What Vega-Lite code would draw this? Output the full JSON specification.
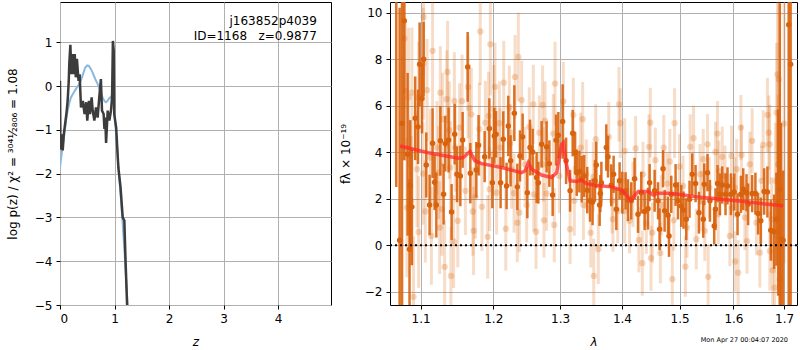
{
"$schema": "https://vega.github.io/schema/vega-lite/v6.json",
"padding": {"left": 5, "top": 1, "right": 1, "bottom": 0},
"background": "white",
"bounds": "flush",
"spacing": 59,
"config": {
  "font": "DejaVu Sans",
  "view": {"stroke": "black", "strokeWidth": 1},
  "axis": {"labelFont": "DejaVu Sans", "labelFontSize": 12, "labelColor": "black", "titleFont": "DejaVu Sans", "titleFontSize": 12, "titleFontWeight": "normal", "titleColor": "black", "tickColor": "black", "tickSize": 4, "labelPadding": 4, "domain": false, "grid": true, "gridColor": "#b0b0b0", "gridWidth": 1, "gridOpacity": 1}
},
"datasets": {
  "pz": [
    {"z":0,"lp":-1.85,"s":"model"},{"z":0.04,"lp":-1.45,"s":"model"},{"z":0.08,"lp":-1.1,"s":"model"},{"z":0.11,"lp":-0.8,"s":"model"},{"z":0.14,"lp":-0.56,"s":"model"},{"z":0.17,"lp":-0.4,"s":"model"},{"z":0.2,"lp":-0.26,"s":"model"},{"z":0.25,"lp":-0.15,"s":"model"},{"z":0.29,"lp":-0.07,"s":"model"},{"z":0.34,"lp":0.02,"s":"model"},{"z":0.38,"lp":0.12,"s":"model"},{"z":0.43,"lp":0.3,"s":"model"},{"z":0.46,"lp":0.42,"s":"model"},{"z":0.5,"lp":0.47,"s":"model"},{"z":0.53,"lp":0.46,"s":"model"},{"z":0.57,"lp":0.38,"s":"model"},{"z":0.6,"lp":0.3,"s":"model"},{"z":0.65,"lp":0.15,"s":"model"},{"z":0.69,"lp":0.05,"s":"model"},{"z":0.74,"lp":-0.12,"s":"model"},{"z":0.78,"lp":-0.26,"s":"model"},{"z":0.82,"lp":-0.35,"s":"model"},{"z":0.845,"lp":-0.37,"s":"model"},{"z":0.87,"lp":-0.34,"s":"model"},{"z":0.9,"lp":-0.28,"s":"model"},{"z":0.93,"lp":-0.25,"s":"model"},{"z":0.96,"lp":-0.3,"s":"model"},{"z":1.0,"lp":-0.65,"s":"model"},{"z":1.03,"lp":-1.1,"s":"model"},{"z":1.06,"lp":-1.65,"s":"model"},{"z":1.09,"lp":-2.15,"s":"model"},{"z":1.12,"lp":-2.62,"s":"model"},{"z":1.15,"lp":-3.15,"s":"model"},{"z":1.18,"lp":-3.72,"s":"model"},{"z":1.21,"lp":-4.35,"s":"model"},{"z":1.24,"lp":-5.0,"s":"model"},{"z":1.27,"lp":-5.7,"s":"model"},
    {"z":0,"lp":0.12,"s":"chi2"},{"z":0.008,"lp":-1.45,"s":"chi2"},{"z":0.03,"lp":-1.1,"s":"chi2"},{"z":0.05,"lp":-1.47,"s":"chi2"},{"z":0.07,"lp":-1.1,"s":"chi2"},{"z":0.1,"lp":-0.8,"s":"chi2"},{"z":0.12,"lp":-0.6,"s":"chi2"},{"z":0.14,"lp":-0.34,"s":"chi2"},{"z":0.16,"lp":0.1,"s":"chi2"},{"z":0.17,"lp":0.5,"s":"chi2"},{"z":0.19,"lp":0.94,"s":"chi2"},{"z":0.21,"lp":0.27,"s":"chi2"},{"z":0.23,"lp":0.73,"s":"chi2"},{"z":0.25,"lp":0.27,"s":"chi2"},{"z":0.27,"lp":0.73,"s":"chi2"},{"z":0.29,"lp":0.2,"s":"chi2"},{"z":0.31,"lp":0.62,"s":"chi2"},{"z":0.34,"lp":0.12,"s":"chi2"},{"z":0.36,"lp":0.27,"s":"chi2"},{"z":0.385,"lp":-0.49,"s":"chi2"},{"z":0.42,"lp":-0.34,"s":"chi2"},{"z":0.45,"lp":-0.64,"s":"chi2"},{"z":0.48,"lp":-0.37,"s":"chi2"},{"z":0.5,"lp":-0.79,"s":"chi2"},{"z":0.53,"lp":-0.34,"s":"chi2"},{"z":0.55,"lp":-0.64,"s":"chi2"},{"z":0.58,"lp":-0.26,"s":"chi2"},{"z":0.6,"lp":-0.56,"s":"chi2"},{"z":0.63,"lp":-0.79,"s":"chi2"},{"z":0.66,"lp":-0.49,"s":"chi2"},{"z":0.69,"lp":-0.72,"s":"chi2"},{"z":0.72,"lp":-0.26,"s":"chi2"},{"z":0.75,"lp":0.16,"s":"chi2"},{"z":0.77,"lp":-0.56,"s":"chi2"},{"z":0.8,"lp":-0.64,"s":"chi2"},{"z":0.815,"lp":-0.98,"s":"chi2"},{"z":0.83,"lp":-0.72,"s":"chi2"},{"z":0.845,"lp":-1.3,"s":"chi2"},{"z":0.875,"lp":-0.56,"s":"chi2"},{"z":0.905,"lp":-0.79,"s":"chi2"},{"z":0.935,"lp":-0.56,"s":"chi2"},{"z":0.955,"lp":-0.26,"s":"chi2"},{"z":0.97,"lp":1.03,"s":"chi2"},{"z":0.985,"lp":0.81,"s":"chi2"},{"z":0.995,"lp":-0.64,"s":"chi2"},{"z":1.03,"lp":-0.95,"s":"chi2"},{"z":1.07,"lp":-1.86,"s":"chi2"},{"z":1.11,"lp":-2.31,"s":"chi2"},{"z":1.15,"lp":-3.0,"s":"chi2"},{"z":1.18,"lp":-3.07,"s":"chi2"},{"z":1.2,"lp":-3.91,"s":"chi2"},{"z":1.23,"lp":-4.98,"s":"chi2"},{"z":1.26,"lp":-5.8,"s":"chi2"}
  ],
  "txt": [
    {"z":4.71,"lp":1.48,"t":"j163852p4039"},
    {"z":4.71,"lp":1.14,"t":"ID=1168\u00a0\u00a0\u00a0z=0.9877"}
  ],
  "spec": [
    {"l":1.0684,"f":12,"e":9.5,"g":"d"},{"l":1.0727,"f":0.21,"e":10,"g":"d"},{"l":1.0758,"f":5.25,"e":9,"g":"d"},{"l":1.0787,"f":9.65,"e":6,"g":"d"},{"l":1.083,"f":3.91,"e":3.5,"g":"d"},{"l":1.0855,"f":-0.17,"e":3,"g":"d"},{"l":1.0864,"f":2.58,"e":2.8,"g":"d"},{"l":1.0886,"f":1.65,"e":2.5,"g":"d"},{"l":1.0929,"f":5.46,"e":1.8,"g":"d"},{"l":1.0966,"f":5.09,"e":1.6,"g":"d"},{"l":1.0987,"f":7.78,"e":1.8,"g":"d"},{"l":1.1018,"f":6.31,"e":1.5,"g":"d"},{"l":1.104,"f":8.0,"e":1.6,"g":"d"},{"l":1.1075,"f":3.45,"e":1.4,"g":"d"},{"l":1.1119,"f":1.73,"e":1.3,"g":"d"},{"l":1.1159,"f":4.39,"e":1.5,"g":"d"},{"l":1.1186,"f":2.71,"e":1.2,"g":"d"},{"l":1.1209,"f":1.73,"e":1.4,"g":"d"},{"l":1.1263,"f":4.49,"e":1.5,"g":"d"},{"l":1.1307,"f":2.19,"e":1.3,"g":"d"},{"l":1.133,"f":4.37,"e":1.2,"g":"d"},{"l":1.1375,"f":4.53,"e":1.4,"g":"d"},{"l":1.1416,"f":1.43,"e":1.2,"g":"d"},{"l":1.1458,"f":4.77,"e":1.3,"g":"d"},{"l":1.149,"f":3.05,"e":1.2,"g":"d"},{"l":1.1536,"f":2.98,"e":1.3,"g":"d"},{"l":1.1568,"f":4.53,"e":1.2,"g":"d"},{"l":1.1638,"f":7.67,"e":1.5,"g":"d"},{"l":1.1675,"f":3.1,"e":1.3,"g":"d"},{"l":1.1759,"f":3.24,"e":1.2,"g":"d"},{"l":1.1791,"f":4.3,"e":1.3,"g":"d"},{"l":1.1877,"f":3.81,"e":1.1,"g":"d"},{"l":1.1944,"f":5.02,"e":1.3,"g":"d"},{"l":1.1987,"f":2.69,"e":1.1,"g":"d"},{"l":1.2015,"f":4.7,"e":1.2,"g":"d"},{"l":1.204,"f":4.77,"e":1.0,"g":"d"},{"l":1.2106,"f":2.69,"e":1.1,"g":"d"},{"l":1.2145,"f":4.56,"e":1.2,"g":"d"},{"l":1.2193,"f":2.55,"e":1.0,"g":"d"},{"l":1.2218,"f":5.13,"e":1.3,"g":"d"},{"l":1.2252,"f":3.63,"e":1.1,"g":"d"},{"l":1.2307,"f":5.68,"e":1.2,"g":"d"},{"l":1.2351,"f":2.51,"e":1.0,"g":"d"},{"l":1.2391,"f":3.84,"e":1.1,"g":"d"},{"l":1.243,"f":4.66,"e":1.0,"g":"d"},{"l":1.25,"f":2.26,"e":1.1,"g":"d"},{"l":1.254,"f":4.2,"e":1.2,"g":"d"},{"l":1.258,"f":4.01,"e":1.0,"g":"d"},{"l":1.264,"f":2.91,"e":1.1,"g":"d"},{"l":1.2666,"f":2.69,"e":0.9,"g":"d"},{"l":1.2716,"f":4.34,"e":1.0,"g":"d"},{"l":1.2792,"f":4.23,"e":1.1,"g":"d"},{"l":1.2834,"f":3.51,"e":1.0,"g":"d"},{"l":1.2885,"f":2.16,"e":0.9,"g":"d"},{"l":1.2938,"f":4.52,"e":1.1,"g":"d"},{"l":1.2973,"f":4.73,"e":1.0,"g":"d"},{"l":1.304,"f":5.32,"e":1.6,"g":"d"},{"l":1.3094,"f":3.63,"e":1.0,"g":"d"},{"l":1.3157,"f":2.34,"e":0.9,"g":"d"},{"l":1.3198,"f":4.82,"e":1.0,"g":"d"},{"l":1.3236,"f":3.98,"e":0.9,"g":"d"},{"l":1.3262,"f":3.12,"e":1.0,"g":"d"},{"l":1.3304,"f":3.17,"e":0.9,"g":"d"},{"l":1.3341,"f":2.84,"e":1.0,"g":"d"},{"l":1.338,"f":2.98,"e":0.9,"g":"d"},{"l":1.343,"f":2.37,"e":1.0,"g":"d"},{"l":1.3474,"f":1.91,"e":0.9,"g":"d"},{"l":1.3516,"f":1.86,"e":1.0,"g":"d"},{"l":1.3555,"f":2.77,"e":0.9,"g":"d"},{"l":1.3576,"f":3.45,"e":1.0,"g":"d"},{"l":1.3631,"f":1.73,"e":0.9,"g":"d"},{"l":1.3642,"f":2.22,"e":0.8,"g":"d"},{"l":1.3659,"f":2.69,"e":0.9,"g":"d"},{"l":1.374,"f":4.2,"e":1.0,"g":"d"},{"l":1.3768,"f":3.81,"e":0.9,"g":"d"},{"l":1.3822,"f":2.58,"e":0.9,"g":"d"},{"l":1.3861,"f":3.05,"e":0.8,"g":"d"},{"l":1.3906,"f":1.55,"e":0.9,"g":"d"},{"l":1.3961,"f":2.77,"e":0.8,"g":"d"},{"l":1.4006,"f":2.26,"e":0.9,"g":"d"},{"l":1.4061,"f":2.34,"e":0.8,"g":"d"},{"l":1.4101,"f":1.94,"e":0.9,"g":"d"},{"l":1.4157,"f":1.91,"e":0.8,"g":"d"},{"l":1.4214,"f":2.86,"e":0.9,"g":"d"},{"l":1.4272,"f":1.33,"e":0.8,"g":"d"},{"l":1.4328,"f":2.26,"e":0.9,"g":"d"},{"l":1.4385,"f":1.45,"e":0.8,"g":"d"},{"l":1.4444,"f":1.57,"e":0.9,"g":"d"},{"l":1.4472,"f":2.69,"e":0.8,"g":"d"},{"l":1.4559,"f":2.34,"e":0.9,"g":"d"},{"l":1.4619,"f":1.91,"e":0.8,"g":"d"},{"l":1.4646,"f":0.69,"e":0.9,"g":"d"},{"l":1.4706,"f":3.29,"e":0.8,"g":"d"},{"l":1.4734,"f":1.48,"e":0.9,"g":"d"},{"l":1.4794,"f":1.29,"e":0.8,"g":"d"},{"l":1.4812,"f":0.4,"e":0.9,"g":"d"},{"l":1.4852,"f":2.19,"e":0.8,"g":"d"},{"l":1.4929,"f":2.59,"e":0.9,"g":"d"},{"l":1.4972,"f":1.91,"e":0.8,"g":"d"},{"l":1.5031,"f":1.69,"e":0.9,"g":"d"},{"l":1.5072,"f":1.51,"e":0.8,"g":"d"},{"l":1.5121,"f":1.12,"e":0.9,"g":"d"},{"l":1.5181,"f":1.98,"e":0.8,"g":"d"},{"l":1.523,"f":3.05,"e":0.9,"g":"d"},{"l":1.5291,"f":2.65,"e":0.8,"g":"d"},{"l":1.5353,"f":1.4,"e":0.9,"g":"d"},{"l":1.5432,"f":1.12,"e":0.8,"g":"d"},{"l":1.5451,"f":2.62,"e":0.9,"g":"d"},{"l":1.5511,"f":3.12,"e":0.8,"g":"d"},{"l":1.5556,"f":1.91,"e":0.9,"g":"d"},{"l":1.5636,"f":0.83,"e":0.8,"g":"d"},{"l":1.566,"f":1.55,"e":0.9,"g":"d"},{"l":1.5698,"f":2.65,"e":0.8,"g":"d"},{"l":1.5743,"f":2.19,"e":0.9,"g":"d"},{"l":1.5787,"f":2.59,"e":0.8,"g":"d"},{"l":1.5849,"f":2.19,"e":0.9,"g":"d"},{"l":1.5887,"f":2.55,"e":0.8,"g":"d"},{"l":1.5952,"f":2.19,"e":0.9,"g":"d"},{"l":1.6015,"f":2.29,"e":0.8,"g":"d"},{"l":1.6079,"f":1.33,"e":0.9,"g":"d"},{"l":1.6144,"f":2.19,"e":0.8,"g":"d"},{"l":1.6189,"f":2.41,"e":0.9,"g":"d"},{"l":1.6253,"f":2.26,"e":0.8,"g":"d"},{"l":1.6284,"f":1.76,"e":0.9,"g":"d"},{"l":1.6363,"f":2.22,"e":0.8,"g":"d"},{"l":1.6427,"f":2.22,"e":0.9,"g":"d"},{"l":1.648,"f":1.36,"e":0.9,"g":"d"},{"l":1.6534,"f":1.05,"e":1.0,"g":"d"},{"l":1.66,"f":2.31,"e":1.0,"g":"d"},{"l":1.6665,"f":2.29,"e":1.1,"g":"d"},{"l":1.6733,"f":0.64,"e":1.3,"g":"d"},{"l":1.6799,"f":0.58,"e":1.6,"g":"d"},{"l":1.6845,"f":1.12,"e":2.0,"g":"d"},{"l":1.688,"f":1.83,"e":4,"g":"d"},{"l":1.6914,"f":2.41,"e":8,"g":"d"},{"l":1.694,"f":0.26,"e":5,"g":"d"},{"l":1.698,"f":0.21,"e":3,"g":"d"},{"l":1.7095,"f":9.48,"e":13,"g":"d"},{"l":1.7135,"f":7.78,"e":13,"g":"d"},
    {"l":1.0787,"f":8.89,"e":3,"g":"l"},{"l":1.104,"f":9.82,"e":2.5,"g":"l"},{"l":1.1036,"f":7.81,"e":2.4,"g":"l"},{"l":1.1159,"f":8.36,"e":2.5,"g":"l"},{"l":1.1085,"f":6.67,"e":2.2,"g":"l"},{"l":1.0841,"f":6.35,"e":3,"g":"l"},{"l":1.0886,"f":6.56,"e":2.8,"g":"l"},{"l":1.0974,"f":6.35,"e":2.4,"g":"l"},{"l":1.1361,"f":7.45,"e":2.2,"g":"l"},{"l":1.1263,"f":6.56,"e":2.0,"g":"l"},{"l":1.135,"f":6.28,"e":2.1,"g":"l"},{"l":1.1454,"f":6.2,"e":2.1,"g":"l"},{"l":1.156,"f":6.2,"e":2.0,"g":"l"},{"l":1.1643,"f":6.81,"e":2.2,"g":"l"},{"l":1.1815,"f":9.19,"e":2.3,"g":"l"},{"l":1.1958,"f":8.64,"e":2.2,"g":"l"},{"l":1.1661,"f":5.89,"e":1.9,"g":"l"},{"l":1.1689,"f":5.63,"e":2.0,"g":"l"},{"l":1.1294,"f":5.42,"e":2.0,"g":"l"},{"l":1.1385,"f":4.95,"e":2.1,"g":"l"},{"l":1.1526,"f":5.06,"e":1.9,"g":"l"},{"l":1.1801,"f":4.99,"e":2.0,"g":"l"},{"l":1.1887,"f":5.27,"e":1.8,"g":"l"},{"l":1.1933,"f":5.56,"e":1.9,"g":"l"},{"l":1.1218,"f":4.2,"e":2.0,"g":"l"},{"l":1.1467,"f":4.2,"e":1.9,"g":"l"},{"l":1.1129,"f":3.77,"e":2.1,"g":"l"},{"l":1.0953,"f":3.27,"e":2.5,"g":"l"},{"l":1.1032,"f":3.08,"e":2.2,"g":"l"},{"l":1.1399,"f":3.34,"e":2.0,"g":"l"},{"l":1.124,"f":3.12,"e":2.0,"g":"l"},{"l":1.1606,"f":2.34,"e":1.9,"g":"l"},{"l":1.1745,"f":2.08,"e":1.8,"g":"l"},{"l":1.1839,"f":1.65,"e":1.9,"g":"l"},{"l":1.1948,"f":2.41,"e":1.8,"g":"l"},{"l":1.1062,"f":1.45,"e":2.2,"g":"l"},{"l":1.1285,"f":1.55,"e":2.0,"g":"l"},{"l":1.171,"f":1.45,"e":1.9,"g":"l"},{"l":1.1501,"f":1.05,"e":2.0,"g":"l"},{"l":1.0974,"f":0.57,"e":2.4,"g":"l"},{"l":1.1143,"f":0.4,"e":2.1,"g":"l"},{"l":1.1254,"f":0.76,"e":2.0,"g":"l"},{"l":1.1444,"f":0.16,"e":2.0,"g":"l"},{"l":1.1721,"f":0.62,"e":1.9,"g":"l"},{"l":1.192,"f":0.36,"e":1.8,"g":"l"},{"l":1.1321,"f":-0.93,"e":2.0,"g":"l"},{"l":1.1407,"f":-1.32,"e":2.1,"g":"l"},{"l":1.0907,"f":-2.22,"e":2.6,"g":"l"},{"l":1.0821,"f":1.62,"e":3,"g":"l"},{"l":1.0877,"f":1.9,"e":2.8,"g":"l"},{"l":1.08,"f":6.64,"e":3,"g":"l"},
    {"l":1.2025,"f":6.81,"e":1.9,"g":"l"},{"l":1.2152,"f":6.99,"e":1.8,"g":"l"},{"l":1.2366,"f":8.1,"e":1.9,"g":"l"},{"l":1.2317,"f":7.24,"e":1.8,"g":"l"},{"l":1.2415,"f":6.24,"e":1.7,"g":"l"},{"l":1.2233,"f":5.92,"e":1.8,"g":"l"},{"l":1.2008,"f":5.85,"e":1.9,"g":"l"},{"l":1.2088,"f":5.25,"e":1.8,"g":"l"},{"l":1.259,"f":6.06,"e":1.7,"g":"l"},{"l":1.2731,"f":6.03,"e":1.7,"g":"l"},{"l":1.2922,"f":6.95,"e":1.8,"g":"l"},{"l":1.3051,"f":6.18,"e":1.7,"g":"l"},{"l":1.3208,"f":5.6,"e":1.6,"g":"l"},{"l":1.3357,"f":5.42,"e":1.6,"g":"l"},{"l":1.2768,"f":5.35,"e":1.7,"g":"l"},{"l":1.253,"f":5.09,"e":1.7,"g":"l"},{"l":1.2681,"f":4.84,"e":1.6,"g":"l"},{"l":1.2895,"f":4.8,"e":1.7,"g":"l"},{"l":1.3325,"f":4.2,"e":1.5,"g":"l"},{"l":1.3568,"f":4.56,"e":1.5,"g":"l"},{"l":1.2243,"f":4.37,"e":1.7,"g":"l"},{"l":1.1999,"f":3.91,"e":1.8,"g":"l"},{"l":1.2098,"f":4.2,"e":1.7,"g":"l"},{"l":1.2266,"f":3.27,"e":1.7,"g":"l"},{"l":1.2466,"f":3.48,"e":1.6,"g":"l"},{"l":1.2742,"f":3.48,"e":1.6,"g":"l"},{"l":1.2989,"f":2.98,"e":1.6,"g":"l"},{"l":1.3414,"f":3.05,"e":1.5,"g":"l"},{"l":1.3527,"f":2.94,"e":1.5,"g":"l"},{"l":1.2049,"f":2.26,"e":1.8,"g":"l"},{"l":1.2303,"f":2.24,"e":1.7,"g":"l"},{"l":1.2597,"f":2.19,"e":1.6,"g":"l"},{"l":1.2792,"f":2.22,"e":1.6,"g":"l"},{"l":1.3224,"f":1.91,"e":1.5,"g":"l"},{"l":1.3368,"f":1.73,"e":1.5,"g":"l"},{"l":1.2381,"f":1.4,"e":1.7,"g":"l"},{"l":1.249,"f":1.73,"e":1.6,"g":"l"},{"l":1.2351,"f":0.97,"e":1.7,"g":"l"},{"l":1.2181,"f":0.71,"e":1.8,"g":"l"},{"l":1.2631,"f":0.58,"e":1.6,"g":"l"},{"l":1.2752,"f":1.07,"e":1.6,"g":"l"},{"l":1.291,"f":0.87,"e":1.6,"g":"l"},{"l":1.3157,"f":0.69,"e":1.5,"g":"l"},{"l":1.3487,"f":0.54,"e":1.5,"g":"l"},{"l":1.3535,"f":-1.32,"e":1.6,"g":"l"},{"l":1.3609,"f":-0.17,"e":1.5,"g":"l"},
    {"l":1.395,"f":6.06,"e":1.6,"g":"l"},{"l":1.3972,"f":5.25,"e":1.5,"g":"l"},{"l":1.4484,"f":5.27,"e":1.5,"g":"l"},{"l":1.4911,"f":5.25,"e":1.5,"g":"l"},{"l":1.3781,"f":4.66,"e":1.5,"g":"l"},{"l":1.5254,"f":4.6,"e":1.4,"g":"l"},{"l":1.4046,"f":4.06,"e":1.4,"g":"l"},{"l":1.4231,"f":4.16,"e":1.4,"g":"l"},{"l":1.4461,"f":4.23,"e":1.4,"g":"l"},{"l":1.472,"f":4.2,"e":1.4,"g":"l"},{"l":1.5193,"f":4.23,"e":1.4,"g":"l"},{"l":1.4571,"f":3.66,"e":1.4,"g":"l"},{"l":1.4826,"f":3.6,"e":1.4,"g":"l"},{"l":1.5,"f":3.38,"e":1.4,"g":"l"},{"l":1.4357,"f":3.05,"e":1.4,"g":"l"},{"l":1.4778,"f":2.65,"e":1.3,"g":"l"},{"l":1.5063,"f":2.55,"e":1.3,"g":"l"},{"l":1.3835,"f":1.91,"e":1.4,"g":"l"},{"l":1.4186,"f":2.19,"e":1.4,"g":"l"},{"l":1.4046,"f":1.48,"e":1.4,"g":"l"},{"l":1.393,"f":1.48,"e":1.4,"g":"l"},{"l":1.385,"f":1.12,"e":1.4,"g":"l"},{"l":1.4128,"f":1.05,"e":1.4,"g":"l"},{"l":1.4415,"f":0.93,"e":1.3,"g":"l"},{"l":1.4518,"f":0.54,"e":1.3,"g":"l"},{"l":1.4286,"f":0.23,"e":1.4,"g":"l"},{"l":1.4897,"f":1.07,"e":1.3,"g":"l"},{"l":1.5133,"f":0.76,"e":1.3,"g":"l"},{"l":1.5304,"f":0.26,"e":1.3,"g":"l"},{"l":1.4496,"f":-0.56,"e":1.4,"g":"l"},{"l":1.4345,"f":-0.77,"e":1.4,"g":"l"},{"l":1.4659,"f":-0.34,"e":1.3,"g":"l"},{"l":1.4871,"f":-1.46,"e":1.4,"g":"l"},{"l":1.5105,"f":-0.92,"e":1.3,"g":"l"},{"l":1.4676,"f":1.73,"e":1.3,"g":"l"},
    {"l":1.5523,"f":-1.36,"e":1.4,"g":"l"},{"l":1.5698,"f":4.8,"e":1.4,"g":"l"},{"l":1.5511,"f":4.34,"e":1.3,"g":"l"},{"l":1.566,"f":4.01,"e":1.3,"g":"l"},{"l":1.5432,"f":3.7,"e":1.3,"g":"l"},{"l":1.5787,"f":3.8,"e":1.3,"g":"l"},{"l":1.5963,"f":3.84,"e":1.3,"g":"l"},{"l":1.6144,"f":5.06,"e":1.4,"g":"l"},{"l":1.6156,"f":3.88,"e":1.3,"g":"l"},{"l":1.6363,"f":4.49,"e":1.4,"g":"l"},{"l":1.658,"f":4.31,"e":1.5,"g":"l"},{"l":1.6665,"f":5.6,"e":1.6,"g":"l"},{"l":1.6693,"f":4.84,"e":1.6,"g":"l"},{"l":1.6709,"f":4.34,"e":1.7,"g":"l"},{"l":1.6866,"f":7.35,"e":4,"g":"l"},{"l":1.6894,"f":7.14,"e":5,"g":"l"},{"l":1.685,"f":5.7,"e":3,"g":"l"},{"l":1.7002,"f":5.23,"e":6,"g":"l"},{"l":1.5724,"f":3.2,"e":1.3,"g":"l"},{"l":1.6064,"f":3.27,"e":1.3,"g":"l"},{"l":1.6317,"f":3.48,"e":1.4,"g":"l"},{"l":1.688,"f":3.48,"e":3,"g":"l"},{"l":1.584,"f":2.98,"e":1.3,"g":"l"},{"l":1.5373,"f":3.05,"e":1.3,"g":"l"},{"l":1.5543,"f":2.48,"e":1.3,"g":"l"},{"l":1.6028,"f":2.48,"e":1.3,"g":"l"},{"l":1.6546,"f":2.77,"e":1.5,"g":"l"},{"l":1.6825,"f":2.77,"e":2.5,"g":"l"},{"l":1.5404,"f":1.91,"e":1.3,"g":"l"},{"l":1.5711,"f":1.33,"e":1.3,"g":"l"},{"l":1.5977,"f":1.62,"e":1.3,"g":"l"},{"l":1.622,"f":1.19,"e":1.4,"g":"l"},{"l":1.6447,"f":0.97,"e":1.4,"g":"l"},{"l":1.6749,"f":1.12,"e":1.8,"g":"l"},{"l":1.5461,"f":0.62,"e":1.3,"g":"l"},{"l":1.5932,"f":0.4,"e":1.3,"g":"l"},{"l":1.6264,"f":0.18,"e":1.4,"g":"l"},{"l":1.6514,"f":-0.32,"e":1.5,"g":"l"},{"l":1.6713,"f":-0.25,"e":1.7,"g":"l"},{"l":1.6034,"f":-0.7,"e":1.3,"g":"l"},{"l":1.6092,"f":-1.18,"e":1.4,"g":"l"},{"l":1.6769,"f":-1.08,"e":1.8,"g":"l"},{"l":1.6809,"f":-1.82,"e":2.0,"g":"l"},{"l":1.6914,"f":-1.46,"e":3,"g":"l"}
  ],
  "model": [
    {"l":1.0732,"f":4.27},{"l":1.1102,"f":3.98},{"l":1.1508,"f":3.74},{"l":1.1577,"f":3.77},{"l":1.167,"f":4.03},{"l":1.174,"f":3.63},{"l":1.1834,"f":3.51},{"l":1.2121,"f":3.34},{"l":1.2415,"f":3.12},{"l":1.2466,"f":3.2},{"l":1.2515,"f":3.55},{"l":1.2565,"f":3.27},{"l":1.2716,"f":3.02},{"l":1.2869,"f":2.91},{"l":1.2946,"f":3.12},{"l":1.3024,"f":4.34},{"l":1.3051,"f":4.41},{"l":1.3088,"f":3.63},{"l":1.3157,"f":2.77},{"l":1.3262,"f":2.74},{"l":1.3341,"f":2.8},{"l":1.342,"f":2.65},{"l":1.3555,"f":2.58},{"l":1.3827,"f":2.51},{"l":1.3994,"f":2.37},{"l":1.4078,"f":2.15},{"l":1.4152,"f":1.94},{"l":1.4208,"f":2.12},{"l":1.4277,"f":2.31},{"l":1.4449,"f":2.31},{"l":1.4536,"f":2.16},{"l":1.4623,"f":2.24},{"l":1.4798,"f":2.24},{"l":1.4977,"f":2.19},{"l":1.528,"f":2.09},{"l":1.5584,"f":2.02},{"l":1.59,"f":1.95},{"l":1.622,"f":1.88},{"l":1.6546,"f":1.79},{"l":1.698,"f":1.7}
  ],
  "zero": [{"f":0}]
},
"hconcat": [
  {
    "width": 271, "height": 303,
    "layer": [
      {
        "data": {"name": "pz"},
        "mark": {"type": "line", "clip": true, "strokeWidth": 2, "color": "#8bb8dc"},
        "transform": [{"filter": "datum.s === 'model'"}],
        "encoding": {
          "x": {"field": "z", "type": "quantitative", "scale": {"domain": [0, 4.97], "nice": false, "zero": false}, "axis": {"values": [0,1,2,3,4], "title": "z", "titleFontStyle": "italic", "titlePadding": 12, "labelPadding": 4}},
          "y": {"field": "lp", "type": "quantitative", "scale": {"domain": [-5, 1.92], "nice": false, "zero": false}, "axis": {"values": [-5,-4,-3,-2,-1,0,1], "title": "log p(z) / χ² = ³⁰⁴¹⁄₂₈₀₆ = 1.08", "titlePadding": 15}}
        }
      },
      {
        "data": {"name": "pz"},
        "mark": {"type": "line", "clip": true, "strokeWidth": 2.5, "color": "#3c3c3c"},
        "transform": [{"filter": "datum.s === 'chi2'"}],
        "encoding": {
          "x": {"field": "z", "type": "quantitative"},
          "y": {"field": "lp", "type": "quantitative"}
        }
      },
      {
        "data": {"name": "txt"},
        "mark": {"type": "text", "align": "right", "baseline": "middle", "fontSize": 12, "font": "DejaVu Sans", "color": "black"},
        "encoding": {
          "x": {"field": "z", "type": "quantitative"},
          "y": {"field": "lp", "type": "quantitative"},
          "text": {"field": "t"}
        }
      }
    ]
  },
  {
    "width": 407, "height": 303,
    "title": {"text": "Mon Apr 27 00:04:07 2020", "orient": "bottom", "anchor": "end", "fontSize": 6.5, "fontWeight": "normal", "font": "DejaVu Sans", "color": "black", "offset": -10, "dx": -10},
    "layer": [
      {
        "data": {"name": "spec"},
        "transform": [{"filter": "datum.g === 'l'"}, {"calculate": "datum.f - datum.e", "as": "lo"}, {"calculate": "datum.f + datum.e", "as": "hi"}],
        "mark": {"type": "rule", "clip": true, "strokeWidth": 3, "color": "#d95f02", "opacity": 0.22},
        "encoding": {
          "x": {"field": "l", "type": "quantitative", "scale": {"type": "log", "domain": [1.0604, 1.7266], "nice": false, "zero": false}, "axis": {"values": [1.1,1.2,1.3,1.4,1.5,1.6,1.7], "format": ".1f", "title": "λ", "titleFontStyle": "italic", "titlePadding": 12, "labelPadding": 4}},
          "y": {"field": "lo", "type": "quantitative", "scale": {"domain": [-2.57, 10.46], "nice": false, "zero": false}, "axis": {"values": [-2,0,2,4,6,8,10], "title": "fλ × 10⁻¹⁹", "titlePadding": 12}},
          "y2": {"field": "hi"}
        }
      },
      {
        "data": {"name": "spec"},
        "transform": [{"filter": "datum.g === 'l'"}],
        "mark": {"type": "circle", "clip": true, "size": 40, "color": "#d95f02", "opacity": 0.25},
        "encoding": {
          "x": {"field": "l", "type": "quantitative"},
          "y": {"field": "f", "type": "quantitative"}
        }
      },
      {
        "data": {"name": "spec"},
        "transform": [{"filter": "datum.g === 'd'"}, {"calculate": "datum.f - datum.e", "as": "lo"}, {"calculate": "datum.f + datum.e", "as": "hi"}],
        "mark": {"type": "rule", "clip": true, "strokeWidth": 2.5, "color": "#d9620c", "opacity": 0.9},
        "encoding": {
          "x": {"field": "l", "type": "quantitative"},
          "y": {"field": "lo", "type": "quantitative"},
          "y2": {"field": "hi"}
        }
      },
      {
        "data": {"name": "spec"},
        "transform": [{"filter": "datum.g === 'd'"}],
        "mark": {"type": "circle", "clip": true, "size": 30, "color": "#d9620c", "opacity": 1},
        "encoding": {
          "x": {"field": "l", "type": "quantitative"},
          "y": {"field": "f", "type": "quantitative"}
        }
      },
      {
        "data": {"name": "model"},
        "mark": {"type": "line", "clip": true, "strokeWidth": 3.5, "color": "#ff2a2a", "opacity": 0.75},
        "encoding": {
          "x": {"field": "l", "type": "quantitative"},
          "y": {"field": "f", "type": "quantitative"}
        }
      },
      {
        "data": {"name": "zero"},
        "mark": {"type": "rule", "strokeWidth": 2, "color": "black", "strokeDash": [2, 3]},
        "encoding": {
          "y": {"field": "f", "type": "quantitative"}
        }
      }
    ]
  }
]
}
